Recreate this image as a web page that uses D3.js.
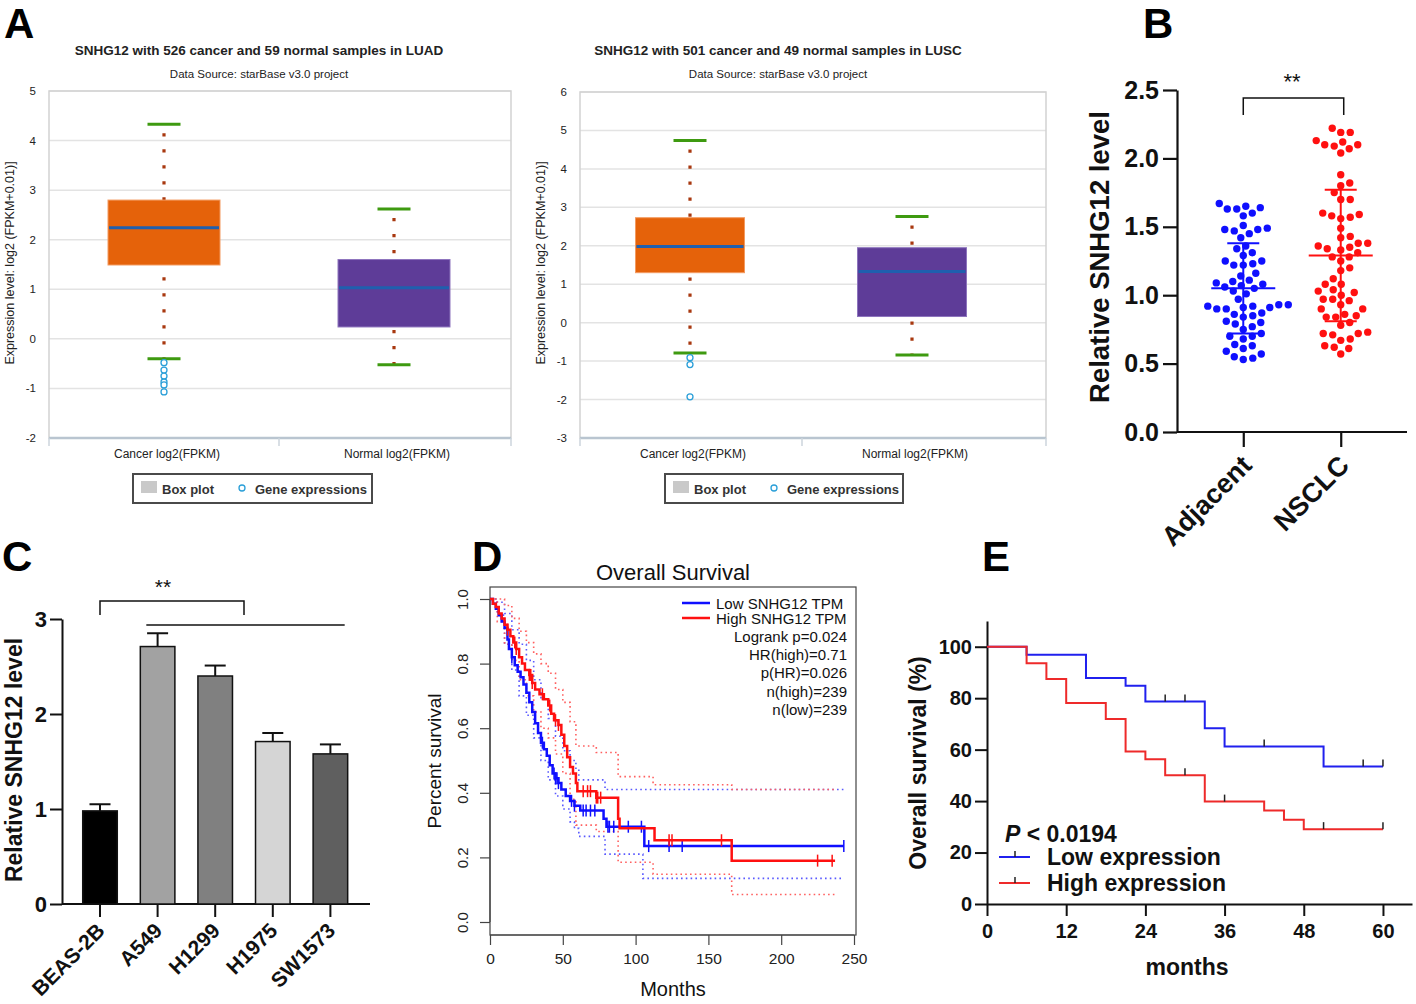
<!DOCTYPE html>
<html><head><meta charset="utf-8">
<script src="https://cdn.jsdelivr.net/npm/d3@7"></script>
<style>
body{margin:0;background:#fff;}
svg{display:block;font-family:"Liberation Sans",Arial,Helvetica,sans-serif;}
</style></head><body>
<svg id="fig" width="1416" height="1004"></svg>
<script>
// ================= DATA =================
// Panel A (starBase box plots)
const boxCategories = ["Cancer log2(FPKM)", "Normal log2(FPKM)"];
const luadTitle = "SNHG12 with 526 cancer and 59 normal samples in LUAD";
const luscTitle = "SNHG12 with 501 cancer and 49 normal samples in LUSC";
const sourceText = "Data Source: starBase v3.0 project";
const luadLow = [-0.40, -0.52];
const luadQ1 = [1.49, 0.24];
const luadMedian = [2.24, 1.03];
const luadQ3 = [2.80, 1.60];
const luadHigh = [4.33, 2.62];
const luadOutliers = [[-0.48, -0.63, -0.75, -0.87, -0.93, -1.07], []];
const luadYTicks = [-2, -1, 0, 1, 2, 3, 4, 5];
const luscLow = [-0.79, -0.84];
const luscQ1 = [1.30, 0.16];
const luscMedian = [1.98, 1.33];
const luscQ3 = [2.73, 1.95];
const luscHigh = [4.74, 2.76];
const luscOutliers = [[-0.91, -1.09, -1.93], []];
const luscYTicks = [-3, -2, -1, 0, 1, 2, 3, 4, 5, 6];

// Panel B (scatter)
const groupsB = ["Adjacent", "NSCLC"];
const adjacentValues = [1.67, 1.65, 1.64, 1.63, 1.63, 1.60, 1.58,
  1.51, 1.49, 1.48, 1.48, 1.47, 1.45, 1.42,
  1.36, 1.34, 1.31, 1.29,
  1.25, 1.25, 1.23, 1.22, 1.22,
  1.16, 1.14, 1.11, 1.10, 1.09, 1.08, 1.07, 1.06, 1.05,
  1.03, 1.01, 0.97,
  0.93, 0.93, 0.92, 0.92, 0.91, 0.91, 0.90, 0.90,
  0.87, 0.86, 0.85, 0.84,
  0.81, 0.80, 0.79, 0.77,
  0.75, 0.72, 0.70, 0.70, 0.68,
  0.64, 0.63, 0.61, 0.59, 0.57, 0.55, 0.54, 0.53];
const nsclcValues = [2.22, 2.19, 2.19, 2.13, 2.12, 2.10, 2.10, 2.09, 2.07, 2.04,
  1.88, 1.82, 1.80, 1.75, 1.70, 1.70,
  1.60, 1.59, 1.58, 1.57, 1.56,
  1.49, 1.43, 1.42, 1.38, 1.38, 1.36, 1.35, 1.34, 1.33, 1.31,
  1.28, 1.28, 1.25, 1.20, 1.18, 1.12, 1.08, 1.08,
  1.04, 1.03, 1.02, 1.00, 0.97, 0.97, 0.96,
  0.93, 0.90, 0.90, 0.86, 0.85, 0.84, 0.84,
  0.80, 0.78, 0.73, 0.72, 0.72, 0.71, 0.68, 0.67, 0.63, 0.62, 0.61, 0.57];
const groupMeanB = [1.05, 1.29];
const groupSdB = [0.33, 0.48];
const yTicksB = [0, 0.5, 1.0, 1.5, 2.0, 2.5];

// Panel C (bars)
const cellLines = ["BEAS-2B", "A549", "H1299", "H1975", "SW1573"];
const cellMeans = [0.98, 2.71, 2.40, 1.71, 1.58];
const cellErrors = [0.07, 0.14, 0.11, 0.09, 0.10];
const yTicksC = [0, 1, 2, 3];

// Panel D (GEPIA KM)
const dLowTime = [0, 2, 4, 6, 8, 10, 12, 13, 15, 17, 19, 21, 23, 25, 27, 29, 31, 33, 35, 37, 39, 41, 43, 45, 47, 49, 52, 55, 58, 62, 78, 80, 106];
const dLowSurv = [1.0, 0.985, 0.97, 0.95, 0.93, 0.91, 0.875, 0.845, 0.82, 0.795, 0.775, 0.758, 0.735, 0.71, 0.68, 0.65, 0.615, 0.585, 0.555, 0.535, 0.515, 0.485, 0.46, 0.445, 0.43, 0.41, 0.39, 0.375, 0.36, 0.345, 0.32, 0.295, 0.235];
const dLowEnd = 243;
const dLowCensor = [15, 36, 44, 45, 46, 47, 56, 58, 64, 66, 69, 72, 81, 82, 85, 95, 104, 109, 123, 132, 243];
const dHighTime = [0, 2, 4, 6, 8, 10, 12, 14, 16, 18, 20, 22, 24, 27, 29, 31, 34, 37, 40, 42, 44, 47, 49, 51, 53, 55, 57, 59, 60, 73, 88, 89, 113, 166];
const dHighSurv = [1.0, 0.985, 0.975, 0.955, 0.94, 0.92, 0.905, 0.885, 0.865, 0.845, 0.82, 0.80, 0.78, 0.765, 0.74, 0.72, 0.705, 0.69, 0.67, 0.645, 0.625, 0.61, 0.58, 0.545, 0.51, 0.48, 0.46, 0.43, 0.405, 0.385, 0.32, 0.29, 0.253, 0.19];
const dHighEnd = 237;
const dHighCensor = [12, 17, 18, 27, 28, 29, 36, 41, 45, 47, 64, 67, 69, 73, 74, 76, 123, 125, 159, 225, 235];
const dLowUpperTime = [0, 5, 10, 15, 20, 25, 30, 35, 40, 45, 50, 55, 59, 61, 79, 243];
const dLowUpperSurv = [1.0, 0.99, 0.955, 0.905, 0.86, 0.81, 0.75, 0.69, 0.63, 0.575, 0.53, 0.50, 0.47, 0.44, 0.41, 0.41];
const dLowLowerTime = [0, 5, 10, 15, 20, 25, 30, 35, 40, 45, 50, 55, 58, 61, 79, 105, 243];
const dLowLowerSurv = [1.0, 0.95, 0.86, 0.78, 0.70, 0.64, 0.57, 0.50, 0.44, 0.39, 0.35, 0.31, 0.29, 0.265, 0.21, 0.135, 0.135];
const dHighUpperTime = [0, 5, 10, 15, 20, 25, 30, 35, 40, 45, 50, 55, 59, 73, 88, 112, 166, 237];
const dHighUpperSurv = [1.0, 1.0, 0.98, 0.94, 0.90, 0.865, 0.83, 0.80, 0.77, 0.72, 0.68, 0.62, 0.545, 0.525, 0.45, 0.425, 0.41, 0.41];
const dHighLowerTime = [0, 5, 10, 15, 20, 25, 30, 35, 40, 45, 50, 55, 59, 73, 88, 112, 166, 237];
const dHighLowerSurv = [1.0, 0.93, 0.86, 0.81, 0.75, 0.70, 0.65, 0.60, 0.57, 0.52, 0.46, 0.38, 0.30, 0.28, 0.185, 0.148, 0.085, 0.085];
const dLegendLabels = ["Low SNHG12 TPM", "High SNHG12 TPM"];
const dStats = ["Logrank p=0.024", "HR(high)=0.71", "p(HR)=0.026", "n(high)=239", "n(low)=239"];
const dXTicks = [0, 50, 100, 150, 200, 250];
const dYTicks = [0, 0.2, 0.4, 0.6, 0.8, 1.0];

// Panel E (KM)
const eLowTime = [0, 6, 15, 21, 24, 33, 36, 51];
const eLowSurv = [100, 96.9, 87.8, 84.8, 78.7, 68.3, 61.2, 53.4];
const eLowEnd = 60;
const eLowCensor = [27, 30, 42, 57, 60];
const eHighTime = [0, 6, 9, 12, 18, 21, 24, 27, 33, 42, 45, 48];
const eHighSurv = [100, 93.6, 87.5, 78.1, 71.9, 59.3, 56.3, 50.0, 39.8, 36.3, 32.7, 29.1];
const eHighEnd = 60;
const eHighCensor = [30, 36, 51, 60];
const eLegendLabels = ["Low expression", "High expression"];
const eXTicks = [0, 12, 24, 36, 48, 60];
const eYTicks = [0, 20, 40, 60, 80, 100];

// ================= STYLE =================
const cellColors = ["#000000", "#a2a2a2", "#808080", "#d5d5d5", "#5f5f5f"];
const boxFills = ["#e5620a", "#5e3c98"];
const boxStrokes = ["#f39a60", "#8d74bd"];
const BLUE = "#0f0fff", RED = "#ff1010";

const svg = d3.select("#fig");

// panel letters
[["A", 4, 38], ["B", 1143, 38], ["C", 2, 571], ["D", 472, 571], ["E", 982, 571]].forEach(([t, x, y]) => {
  svg.append("text").attr("x", x).attr("y", y).attr("font-size", 42).attr("font-weight", "bold").attr("fill", "#000").text(t);
});

// ================= PANEL A =================
function boxPanel(o) {
  const g = svg.append("g");
  const y = d3.scaleLinear().domain(d3.extent(o.yTicks)).range([o.bottom, o.top]);
  const x = d3.scalePoint().domain(boxCategories).range(o.centers);
  g.append("text").attr("x", o.titleX).attr("y", 55).attr("text-anchor", "middle")
    .attr("font-weight", "bold").attr("font-size", 13.5).attr("fill", "#222").text(o.title);
  g.append("text").attr("x", o.titleX).attr("y", 78).attr("text-anchor", "middle")
    .attr("font-size", 11.5).attr("fill", "#222").text(sourceText);
  g.selectAll("line.grid").data(o.yTicks).join("line").attr("class", "grid")
    .attr("x1", o.left).attr("x2", o.right).attr("y1", d => y(d)).attr("y2", d => y(d))
    .attr("stroke", "#e3e3e3").attr("stroke-width", 1.5);
  g.append("rect").attr("x", o.left).attr("y", o.top).attr("width", o.right - o.left).attr("height", o.bottom - o.top)
    .attr("fill", "none").attr("stroke", "#d2d2d2").attr("stroke-width", 1.5);
  g.append("line").attr("x1", o.left).attr("x2", o.right).attr("y1", o.bottom).attr("y2", o.bottom)
    .attr("stroke", "#b9c5d0").attr("stroke-width", 2.5);
  [o.left, o.midTick, o.right].forEach(tx => g.append("line").attr("x1", tx).attr("x2", tx)
    .attr("y1", o.bottom).attr("y2", o.bottom + 8).attr("stroke", "#ccd5dd").attr("stroke-width", 1.5));
  g.selectAll("text.yt").data(o.yTicks).join("text").attr("class", "yt")
    .attr("x", o.left - 13).attr("y", d => y(d) + 4).attr("text-anchor", "end")
    .attr("font-size", 11.5).attr("fill", "#222").text(d => d);
  g.append("text").attr("transform", `translate(${o.yLabelX},263) rotate(-90)`).attr("text-anchor", "middle")
    .attr("font-size", 12.5).attr("fill", "#222").text("Expression level: log2 (FPKM+0.01)]");
  boxCategories.forEach((c, i) => {
    const cx = x(c);
    g.append("text").attr("x", cx + 3).attr("y", 458).attr("text-anchor", "middle")
      .attr("font-size", 12).attr("fill", "#222").text(c);
    g.append("line").attr("x1", cx).attr("x2", cx).attr("y1", y(o.high[i]) + 9).attr("y2", y(o.low[i]))
      .attr("stroke", "#a8380f").attr("stroke-width", 3.2).attr("stroke-dasharray", "3.2,12.8");
    g.append("rect").attr("x", cx - o.boxW / 2).attr("width", o.boxW)
      .attr("y", y(o.q3[i])).attr("height", y(o.q1[i]) - y(o.q3[i]))
      .attr("fill", boxFills[i]).attr("stroke", boxStrokes[i]).attr("stroke-width", 1);
    g.append("line").attr("x1", cx - o.boxW / 2 + 1).attr("x2", cx + o.boxW / 2 - 1)
      .attr("y1", y(o.median[i])).attr("y2", y(o.median[i])).attr("stroke", "#1f5fae").attr("stroke-width", 3);
    [o.high[i], o.low[i]].forEach(v => g.append("line").attr("x1", cx - 16.5).attr("x2", cx + 16.5)
      .attr("y1", y(v)).attr("y2", y(v)).attr("stroke", "#3e9a10").attr("stroke-width", 3));
    g.selectAll(null).data(o.outliers[i]).join("circle").attr("cx", cx).attr("cy", d => y(d)).attr("r", 3)
      .attr("fill", "#fff").attr("stroke", "#2b9fd8").attr("stroke-width", 1.3);
  });
  // legend
  const L = o.legend;
  g.append("rect").attr("x", L.x).attr("y", 474).attr("width", L.w).attr("height", 29)
    .attr("fill", "#fff").attr("stroke", "#4a4a4a").attr("stroke-width", 2);
  g.append("rect").attr("x", L.x + 8).attr("y", 481).attr("width", 16).attr("height", 12).attr("fill", "#c9c9c9");
  g.append("text").attr("x", L.x + 29).attr("y", 494).attr("font-size", 13).attr("font-weight", "bold").attr("fill", "#333").text("Box plot");
  g.append("circle").attr("cx", L.x + 109).attr("cy", 488).attr("r", 3).attr("fill", "#fff").attr("stroke", "#2b9fd8").attr("stroke-width", 1.3);
  g.append("text").attr("x", L.x + 122).attr("y", 494).attr("font-size", 13).attr("font-weight", "bold").attr("fill", "#333").text("Gene expressions");
}
boxPanel({ title: luadTitle, titleX: 259, left: 49, right: 511, top: 91, bottom: 438, midTick: 279,
  centers: [164, 394], boxW: 112, yTicks: luadYTicks, yLabelX: 14,
  low: luadLow, q1: luadQ1, median: luadMedian, q3: luadQ3, high: luadHigh, outliers: luadOutliers,
  legend: { x: 133, w: 239 } });
boxPanel({ title: luscTitle, titleX: 778, left: 580, right: 1046, top: 92, bottom: 438, midTick: 802,
  centers: [690, 912], boxW: 109, yTicks: luscYTicks, yLabelX: 545,
  low: luscLow, q1: luscQ1, median: luscMedian, q3: luscQ3, high: luscHigh, outliers: luscOutliers,
  legend: { x: 665, w: 238 } });

// ================= PANEL B =================
(function () {
  const g = svg.append("g");
  const y = d3.scaleLinear().domain([0, 2.5]).range([432, 90]);
  const x = d3.scalePoint().domain(groupsB).range([1177, 1407]).padding(0.68);
  const yAx = g.append("g").attr("transform", "translate(1177,0)")
    .call(d3.axisLeft(y).tickValues(yTicksB).tickFormat(d3.format(".1f")).tickSize(14).tickSizeOuter(0));
  yAx.selectAll("text").attr("font-size", 25).attr("font-weight", "bold").attr("font-family", "Liberation Sans, Arial").attr("fill", "#111").attr("x", -18);
  const xAx = g.append("g").attr("transform", "translate(0,432)")
    .call(d3.axisBottom(x).tickSize(15).tickSizeOuter(0));
  xAx.selectAll("text").remove();
  [yAx, xAx].forEach(a => { a.selectAll("path,line").attr("stroke", "#111").attr("stroke-width", 2.2); });
  xAx.select("path").attr("d", "M0,0H230").attr("transform", "translate(1177,0)");
  groupsB.forEach(gname => {
    g.append("text").attr("transform", `translate(${x(gname) + 10},467) rotate(-45)`).attr("text-anchor", "end")
      .attr("font-size", 27).attr("font-weight", "bold").attr("fill", "#111").text(gname);
  });
  g.append("text").attr("transform", "translate(1109,257) rotate(-90)").attr("text-anchor", "middle")
    .attr("font-size", 27.5).attr("font-weight", "bold").attr("fill", "#111").text("Relative SNHG12 level");
  // bracket
  g.append("path").attr("d", `M${x("Adjacent")},${115}V98H${x("NSCLC") + 3}V115`).attr("fill", "none").attr("stroke", "#111").attr("stroke-width", 1.5);
  g.append("text").attr("x", 1292).attr("y", 89).attr("text-anchor", "middle").attr("font-size", 22).attr("fill", "#111").text("**");
  const r = 3.7;
  function swarm(values) {
    const order = values.map((v, i) => i).sort((a, b) => values[a] - values[b]);
    const placed = [], off = new Array(values.length), md = 9.4;
    order.forEach(i => {
      const py = y(values[i]);
      let chosen = 0;
      for (let k = 0; k < 400; k++) {
        const cands = k === 0 ? [0] : [k * 0.5, -k * 0.5];
        const ok = cands.find(c => placed.every(p => (p.x - c) ** 2 + (p.y - py) ** 2 >= md * md));
        if (ok !== undefined) { chosen = ok; break; }
      }
      placed.push({ x: chosen, y: py }); off[i] = chosen;
    });
    return off;
  }
  [[adjacentValues, BLUE], [nsclcValues, RED]].forEach(([vals, col], gi) => {
    const cx = x(groupsB[gi]);
    const off = swarm(vals);
    g.selectAll(null).data(vals).join("circle").attr("cx", (d, i) => cx + off[i]).attr("cy", d => y(d)).attr("r", r).attr("fill", col);
    const m = groupMeanB[gi], s = groupSdB[gi];
    g.append("line").attr("x1", cx - 32).attr("x2", cx + 32).attr("y1", y(m)).attr("y2", y(m)).attr("stroke", col).attr("stroke-width", 2);
    g.append("line").attr("x1", cx).attr("x2", cx).attr("y1", y(m + s)).attr("y2", y(m - s)).attr("stroke", col).attr("stroke-width", 2);
    [m + s, m - s].forEach(v => g.append("line").attr("x1", cx - 16).attr("x2", cx + 16).attr("y1", y(v)).attr("y2", y(v)).attr("stroke", col).attr("stroke-width", 2));
  });
})();

// ================= PANEL C =================
(function () {
  const g = svg.append("g");
  const y = d3.scaleLinear().domain([0, 3]).range([904, 619]);
  const x = d3.scaleBand().domain(cellLines).range([71.2, 359.2]).paddingInner(0.4).paddingOuter(0.2);
  const yAx = g.append("g").attr("transform", "translate(62,0)")
    .call(d3.axisLeft(y).tickValues(yTicksC).tickFormat(d3.format("d")).tickSize(12).tickSizeOuter(0));
  yAx.selectAll("text").attr("font-size", 22).attr("font-weight", "bold").attr("font-family", "Liberation Sans, Arial").attr("fill", "#111").attr("x", -15);
  const xAx = g.append("g").attr("transform", "translate(0,904)")
    .call(d3.axisBottom(x).tickSize(13).tickSizeOuter(0));
  xAx.selectAll("text").remove();
  xAx.select("path").attr("d", "M62,0H370");
  [yAx, xAx].forEach(a => a.selectAll("path,line").attr("stroke", "#111").attr("stroke-width", 2));
  cellLines.forEach((c, i) => {
    const cx = x(c) + x.bandwidth() / 2;
    g.append("line").attr("x1", cx).attr("x2", cx).attr("y1", y(cellMeans[i])).attr("y2", y(cellMeans[i] + cellErrors[i])).attr("stroke", "#111").attr("stroke-width", 2);
    g.append("line").attr("x1", cx - 10.5).attr("x2", cx + 10.5).attr("y1", y(cellMeans[i] + cellErrors[i])).attr("y2", y(cellMeans[i] + cellErrors[i])).attr("stroke", "#111").attr("stroke-width", 2);
    g.append("rect").attr("x", x(c)).attr("width", x.bandwidth()).attr("y", y(cellMeans[i])).attr("height", y(0) - y(cellMeans[i]))
      .attr("fill", cellColors[i]).attr("stroke", "#111").attr("stroke-width", 1.5);
    g.append("text").attr("transform", `translate(${cx + 6},932) rotate(-45)`).attr("text-anchor", "end")
      .attr("font-size", 21).attr("font-weight", "bold").attr("fill", "#111").text(c);
  });
  g.append("text").attr("transform", "translate(22,760) rotate(-90)").attr("text-anchor", "middle")
    .attr("font-size", 23).attr("font-weight", "bold").attr("fill", "#111").text("Relative SNHG12 level");
  const bx0 = x(cellLines[0]) + x.bandwidth() / 2;
  const bx1 = (x(cellLines[2]) + x(cellLines[3]) + x.bandwidth()) / 2;
  g.append("path").attr("d", `M${bx0},615V601H${bx1}V615`).attr("fill", "none").attr("stroke", "#111").attr("stroke-width", 1.5);
  g.append("text").attr("x", 163).attr("y", 594).attr("text-anchor", "middle").attr("font-size", 21).attr("fill", "#111").text("**");
  g.append("line").attr("x1", x(cellLines[1]) + 6).attr("x2", x(cellLines[4]) + x.bandwidth() - 3).attr("y1", 625).attr("y2", 625).attr("stroke", "#111").attr("stroke-width", 1.5);
})();

// ================= PANEL D =================
(function () {
  const g = svg.append("g");
  const x = d3.scaleLinear().domain([0, 250]).range([490, 854]);
  const y = d3.scaleLinear().domain([0, 1]).range([922, 599]);
  g.append("rect").attr("x", 490).attr("y", 587).attr("width", 366).attr("height", 348).attr("fill", "none").attr("stroke", "#444").attr("stroke-width", 1.2);
  const xAx = g.append("g").attr("transform", "translate(0,935)").call(d3.axisBottom(x).tickValues(dXTicks).tickSize(10).tickSizeOuter(0));
  xAx.selectAll("text").attr("font-size", 15.5).attr("font-family", "Liberation Sans, Arial").attr("fill", "#222").attr("y", 18);
  const yAx = g.append("g").attr("transform", "translate(490,0)").call(d3.axisLeft(y).tickValues(dYTicks).tickFormat(d3.format(".1f")).tickSize(10).tickSizeOuter(0));
  yAx.selectAll("text").attr("font-size", 15).attr("font-family", "Liberation Sans, Arial").attr("fill", "#222")
    .attr("transform", "rotate(-90)").attr("text-anchor", "middle").attr("x", 0).attr("y", -22).attr("dy", "0");
  [xAx, yAx].forEach(a => a.selectAll("path,line").attr("stroke", "#444").attr("stroke-width", 1.2));
  xAx.select("path").attr("d", "M490,0H854"); yAx.select("path").attr("d", "M0,922V599");
  g.append("text").attr("x", 673).attr("y", 580).attr("text-anchor", "middle").attr("font-size", 22).attr("fill", "#111").text("Overall Survival");
  g.append("text").attr("x", 673).attr("y", 996).attr("text-anchor", "middle").attr("font-size", 20).attr("fill", "#111").text("Months");
  g.append("text").attr("transform", "translate(441,761) rotate(-90)").attr("text-anchor", "middle").attr("font-size", 19).attr("fill", "#111").text("Percent survival");
  const line = d3.line().x(d => x(d[0])).y(d => y(d[1])).curve(d3.curveStepAfter);
  function pts(t, s, end) { const p = t.map((v, i) => [v, s[i]]); if (end !== undefined) p.push([end, s[s.length - 1]]); return p; }
  const ciStyle = (col) => sel => sel.attr("fill", "none").attr("stroke", col).attr("stroke-width", 1.6).attr("stroke-dasharray", "1.6,3.2");
  g.append("path").attr("d", line(pts(dLowUpperTime, dLowUpperSurv))).call(ciStyle("#5a5aff"));
  g.append("path").attr("d", line(pts(dLowLowerTime, dLowLowerSurv))).call(ciStyle("#5a5aff"));
  g.append("path").attr("d", line(pts(dHighUpperTime, dHighUpperSurv))).call(ciStyle("#ff6060"));
  g.append("path").attr("d", line(pts(dHighLowerTime, dHighLowerSurv))).call(ciStyle("#ff6060"));
  function survAt(t, s, tt) { let v = s[0]; t.forEach((ti, i) => { if (ti <= tt) v = s[i]; }); return v; }
  [[dLowTime, dLowSurv, dLowEnd, dLowCensor, BLUE], [dHighTime, dHighSurv, dHighEnd, dHighCensor, RED]].forEach(([t, s, e, c, col]) => {
    g.append("path").attr("d", line(pts(t, s, e))).attr("fill", "none").attr("stroke", col).attr("stroke-width", 2.5);
    g.selectAll(null).data(c).join("line").attr("x1", d => x(d)).attr("x2", d => x(d))
      .attr("y1", d => y(survAt(t, s, d)) - 6).attr("y2", d => y(survAt(t, s, d)) + 6).attr("stroke", col).attr("stroke-width", 1.5);
  });
  // legend
  [[BLUE, 603], [RED, 618]].forEach(([col, ly], i) => {
    g.append("line").attr("x1", 682).attr("x2", 710).attr("y1", ly).attr("y2", ly).attr("stroke", col).attr("stroke-width", 2.5);
    g.append("text").attr("x", 716).attr("y", ly + 5.5).attr("font-size", 15).attr("fill", "#111").text(dLegendLabels[i]);
  });
  dStats.forEach((s, i) => g.append("text").attr("x", 847).attr("y", 642 + i * 18.2).attr("text-anchor", "end").attr("font-size", 15).attr("fill", "#111").text(s));
})();

// ================= PANEL E =================
(function () {
  const g = svg.append("g");
  const x = d3.scaleLinear().domain([0, 64.4]).range([987, 1412]);
  const y = d3.scaleLinear().domain([0, 110]).range([904, 621]);
  const xAx = g.append("g").attr("transform", "translate(0,904)").call(d3.axisBottom(x).tickValues(eXTicks).tickSize(12).tickSizeOuter(0));
  const yAx = g.append("g").attr("transform", "translate(987,0)").call(d3.axisLeft(y).tickValues(eYTicks).tickSize(12).tickSizeOuter(0));
  [xAx, yAx].forEach(a => {
    a.selectAll("path,line").attr("stroke", "#111").attr("stroke-width", 2);
    a.selectAll("text").attr("font-size", 20).attr("font-weight", "bold").attr("font-family", "Liberation Sans, Arial").attr("fill", "#111");
  });
  xAx.selectAll("text").attr("y", 20);
  yAx.selectAll("text").attr("x", -15);
  g.append("text").attr("x", 1187).attr("y", 975).attr("text-anchor", "middle").attr("font-size", 23).attr("font-weight", "bold").attr("fill", "#111").text("months");
  g.append("text").attr("transform", "translate(926,763) rotate(-90)").attr("text-anchor", "middle").attr("font-size", 23).attr("font-weight", "bold").attr("fill", "#111").text("Overall survival (%)");
  const line = d3.line().x(d => x(d[0])).y(d => y(d[1])).curve(d3.curveStepAfter);
  function survAt(t, s, tt) { let v = s[0]; t.forEach((ti, i) => { if (ti <= tt) v = s[i]; }); return v; }
  [[eLowTime, eLowSurv, eLowEnd, eLowCensor, "#2020ee"], [eHighTime, eHighSurv, eHighEnd, eHighCensor, "#ee2a2a"]].forEach(([t, s, e, c, col]) => {
    const p = t.map((v, i) => [v, s[i]]); p.push([e, s[s.length - 1]]);
    g.append("path").attr("d", line(p)).attr("fill", "none").attr("stroke", col).attr("stroke-width", 2);
    g.selectAll(null).data(c).join("line").attr("x1", d => x(d)).attr("x2", d => x(d))
      .attr("y1", d => y(survAt(t, s, d))).attr("y2", d => y(survAt(t, s, d)) - 7).attr("stroke", "#222").attr("stroke-width", 1.5);
  });
  const pt = g.append("text").attr("x", 1005).attr("y", 842).attr("font-size", 23).attr("font-weight", "bold").attr("fill", "#111");
  pt.append("tspan").attr("font-style", "italic").text("P");
  pt.append("tspan").text(" < 0.0194");
  [["#2020ee", 857], ["#ee2a2a", 883]].forEach(([col, ly], i) => {
    g.append("line").attr("x1", 999).attr("x2", 1030).attr("y1", ly).attr("y2", ly).attr("stroke", col).attr("stroke-width", 2);
    g.append("line").attr("x1", 1015).attr("x2", 1015).attr("y1", ly).attr("y2", ly - 6).attr("stroke", "#222").attr("stroke-width", 1.5);
    g.append("text").attr("x", 1047).attr("y", ly + 8).attr("font-size", 23).attr("font-weight", "bold").attr("fill", "#111").text(eLegendLabels[i]);
  });
})();
</script></body></html>
